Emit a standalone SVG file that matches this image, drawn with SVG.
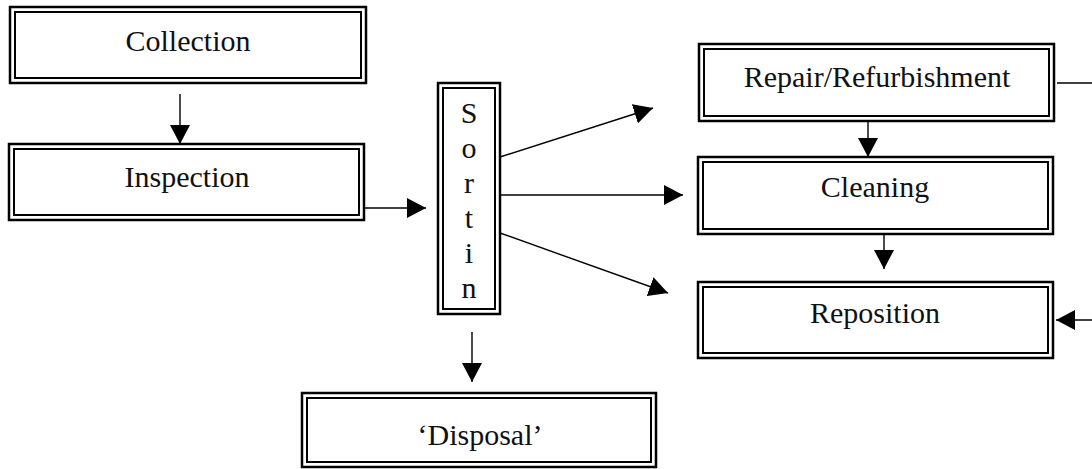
<svg xmlns="http://www.w3.org/2000/svg" width="1092" height="469" viewBox="0 0 1092 469">
<style>
.o{fill:#fff;stroke:#000;stroke-width:2.5}
.i{fill:none;stroke:#000;stroke-width:2}
.t{font-family:'Liberation Serif','Times New Roman','DejaVu Serif',serif;font-size:30px;fill:#111;text-anchor:middle}
.c line{stroke:#000;stroke-width:1.4}
</style>
<defs>
<marker id="ah" markerUnits="userSpaceOnUse" markerWidth="20" markerHeight="20" refX="19" refY="10" orient="auto">
<path d="M0,0 L19,10 L0,20 z" fill="#000"/>
</marker>
</defs>
<g id="collection"><rect class="o" x="10" y="7" width="356" height="76"/><rect class="i" x="15" y="12" width="346" height="66"/><text class="t" x="188" y="51">Collection</text></g>
<g id="inspection"><rect class="o" x="9" y="144" width="355" height="76"/><rect class="i" x="14" y="149" width="345" height="66"/><text class="t" x="187" y="187">Inspection</text></g>
<g id="sorting"><rect class="o" x="438" y="83" width="62" height="231"/><rect class="i" x="443" y="88" width="52" height="221"/>
<text class="t" x="469" y="123">S</text><text class="t" x="469" y="158">o</text><text class="t" x="469" y="193">r</text><text class="t" x="469" y="228">t</text><text class="t" x="469" y="263">i</text><text class="t" x="469" y="298">n</text></g>
<g id="disposal"><rect class="o" x="302" y="393" width="354" height="74"/><rect class="i" x="307" y="398" width="344" height="64"/><text class="t" x="480" y="445">‘Disposal’</text></g>
<g id="repair"><rect class="o" x="699" y="44" width="355" height="77"/><rect class="i" x="704" y="49" width="345" height="67"/><text class="t" x="877" y="87">Repair/Refurbishment</text></g>
<g id="cleaning"><rect class="o" x="698" y="157" width="355" height="77"/><rect class="i" x="703" y="162" width="345" height="67"/><text class="t" x="875" y="197">Cleaning</text></g>
<g id="reposition"><rect class="o" x="698" y="282" width="355" height="76"/><rect class="i" x="703" y="287" width="345" height="66"/><text class="t" x="875" y="323">Reposition</text></g>
<g id="connectors" class="c">
<line x1="180" y1="94" x2="180" y2="144" marker-end="url(#ah)"/>
<line x1="365" y1="208" x2="426" y2="208" marker-end="url(#ah)"/>
<line x1="500" y1="157" x2="653" y2="108" marker-end="url(#ah)"/>
<line x1="500" y1="195" x2="683" y2="195" marker-end="url(#ah)"/>
<line x1="500" y1="233" x2="668" y2="293" marker-end="url(#ah)"/>
<line x1="472" y1="332" x2="472" y2="382" marker-end="url(#ah)"/>
<line x1="868" y1="121" x2="868" y2="157" marker-end="url(#ah)"/>
<line x1="884" y1="234" x2="884" y2="269" marker-end="url(#ah)"/>
<line x1="1057" y1="83" x2="1092" y2="83"/>
<line x1="1092" y1="320" x2="1056" y2="320" marker-end="url(#ah)"/>
</g>
</svg>
